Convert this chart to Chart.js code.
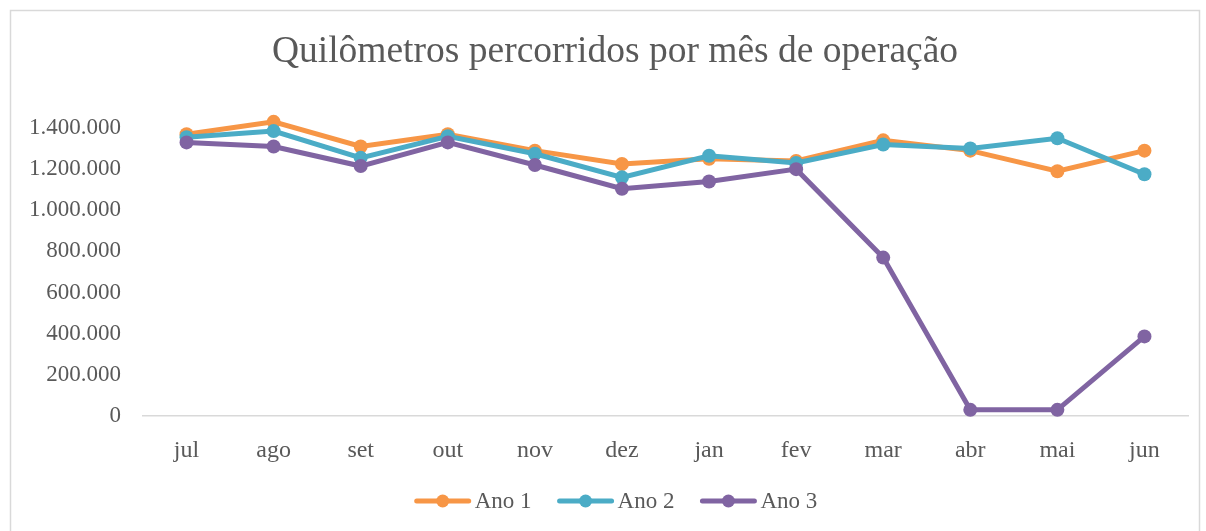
<!DOCTYPE html>
<html>
<head>
<meta charset="utf-8">
<script src="https://cdn.jsdelivr.net/npm/chart.js@4.4.1/dist/chart.umd.min.js"></script>
<style>
  html, body { margin: 0; padding: 0; background: #fff; }
  #wrap { width: 1206px; height: 531px; position: relative; }
</style>
</head>
<body>
<div id="wrap"><canvas id="c" width="1206" height="531"></canvas></div>
<script>
const months = ["jul", "ago", "set", "out", "nov", "dez", "jan", "fev", "mar", "abr", "mai", "jun"];
const ano1 = [1370000, 1430000, 1310000, 1370000, 1290000, 1225000, 1250000, 1240000, 1340000, 1290000, 1190000, 1290000];
const ano2 = [1355000, 1385000, 1255000, 1360000, 1275000, 1160000, 1265000, 1230000, 1320000, 1300000, 1350000, 1175000];
const ano3 = [1330000, 1310000, 1215000, 1330000, 1220000, 1105000, 1140000, 1200000, 770000, 30000, 30000, 387000];
const seriesNames = ["Ano 1", "Ano 2", "Ano 3"];
const seriesColors = ["#F79646", "#4BACC6", "#8064A2"];

const FONT = "'Liberation Serif', 'Times New Roman', serif";
const TEXT = "#595959";

function fmt(v) {
  return String(v).replace(/\B(?=(\d{3})+(?!\d))/g, ".");
}

const frame = {
  id: "frame",
  beforeDraw(c) {
    const ctx = c.ctx;
    ctx.save();
    ctx.fillStyle = "#fff";
    ctx.fillRect(0, 0, c.width, c.height);
    ctx.strokeStyle = "#d9d9d9";
    ctx.lineWidth = 1.5;
    ctx.strokeRect(10.5, 10.5, 1189, 600);
    ctx.restore();
  }
};

// Excel-style legend: line with a dot, then the series name
const lineLegend = {
  id: "lineLegend",
  afterDraw(c) {
    const ctx = c.ctx;
    const swW = 56, gap = 4, itemGap = 26;
    ctx.save();
    ctx.font = "23px " + FONT;
    const widths = seriesNames.map((n) => swW + gap + ctx.measureText(n).width);
    const total = widths.reduce((a, b) => a + b, 0) + itemGap * (widths.length - 1);
    let x = 616 - total / 2;
    const y = c.chartArea.bottom + 85;
    seriesNames.forEach((n, i) => {
      const col = seriesColors[i];
      ctx.strokeStyle = col;
      ctx.lineWidth = 5;
      ctx.lineCap = "round";
      ctx.beginPath();
      ctx.moveTo(x + 2, y);
      ctx.lineTo(x + swW - 2, y);
      ctx.stroke();
      ctx.fillStyle = col;
      ctx.beginPath();
      ctx.arc(x + swW / 2, y, 6.5, 0, Math.PI * 2);
      ctx.fill();
      ctx.fillStyle = TEXT;
      ctx.textBaseline = "middle";
      ctx.textAlign = "left";
      ctx.fillText(n, x + swW + gap, y + 1);
      x += widths[i] + itemGap;
    });
    ctx.restore();
  }
};

const data = [ano1, ano2, ano3];

new Chart(document.getElementById("c"), {
  type: "line",
  data: {
    labels: months,
    datasets: data.map((d, i) => ({
      label: seriesNames[i],
      data: d,
      borderColor: seriesColors[i],
      backgroundColor: seriesColors[i],
      pointBackgroundColor: seriesColors[i],
      pointBorderColor: seriesColors[i],
      borderWidth: 5,
      pointRadius: 7,
      pointBorderWidth: 0,
      tension: 0,
      clip: false,
      order: 3 - i
    }))
  },
  options: {
    responsive: false,
    animation: false,
    layout: { padding: { left: 24, right: 0, top: 0, bottom: 49 } },
    plugins: {
      title: {
        display: true,
        text: "Quilômetros percorridos por mês de operação",
        color: TEXT,
        font: { family: FONT, size: 37.5, weight: "normal" },
        padding: { top: 30, bottom: 53 }
      },
      legend: { display: false },
      tooltip: { enabled: false }
    },
    scales: {
      x: {
        offset: true,
        grid: { display: false, drawTicks: false },
        border: { display: true, color: "#d9d9d9", width: 1.5 },
        ticks: { color: TEXT, font: { family: FONT, size: 24 }, padding: 20 },
        afterFit(s) { s.height = 66; }
      },
      y: {
        min: 0,
        max: 1400000,
        grid: { display: false, drawTicks: false },
        border: { display: false },
        ticks: {
          stepSize: 200000,
          color: TEXT,
          font: { family: FONT, size: 23 },
          padding: 22,
          callback: (v) => fmt(v)
        },
        afterFit(s) { s.width = 119; }
      },
      // empty right-hand spacer so the plot ends where the reference does
      yRight: {
        position: "right",
        display: true,
        grid: { display: false, drawTicks: false },
        border: { display: false },
        ticks: { display: false },
        afterFit(s) { s.width = 18; }
      }
    }
  },
  plugins: [frame, lineLegend]
});
</script>
</body>
</html>
